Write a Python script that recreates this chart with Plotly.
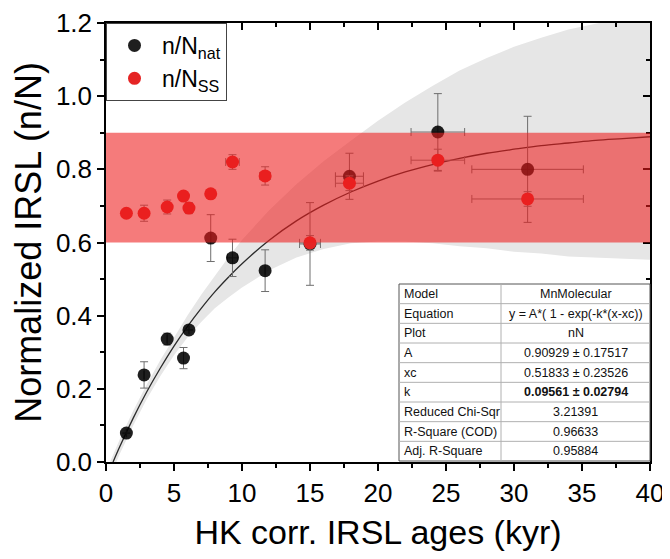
import plotly.graph_objects as go

# ---------------- data ----------------
age_nat = [1.5, 2.8, 4.5, 5.7, 6.1, 7.7, 9.3, 11.7, 15.0, 17.9, 24.4, 31.0]
nN_nat = [0.079, 0.238, 0.336, 0.284, 0.361, 0.612, 0.558, 0.523, 0.596, 0.781, 0.902, 0.800]
nN_nat_err = [0.0, 0.036, 0.016, 0.029, 0.0, 0.064, 0.051, 0.057, 0.113, 0.063, 0.105, 0.145]
age_nat_err = [0.0, 0.0, 0.0, 0.0, 0.0, 0.0, 0.37, 0.0, 0.77, 1.03, 1.97, 4.1]

age_ss = [1.5, 2.8, 4.5, 5.7, 6.1, 7.7, 9.3, 11.7, 15.0, 17.9, 24.4, 31.0]
nN_ss = [0.680, 0.680, 0.697, 0.727, 0.694, 0.733, 0.820, 0.782, 0.599, 0.762, 0.825, 0.719]
nN_ss_err = [0.0, 0.022, 0.019, 0.0, 0.015, 0.0, 0.020, 0.025, 0.02, 0.02, 0.03, 0.02]
age_ss_err = [0.0, 0.0, 0.0, 0.0, 0.0, 0.0, 0.5, 0.4, 0.77, 1.03, 1.97, 4.1]

# fitted curve and its confidence band
fit_x = [0.52, 1, 2, 3, 4, 5, 6, 7, 8, 9, 10, 12, 14, 16, 18, 20, 22, 24, 26, 28, 30, 32, 34, 36, 38, 40]
fit_y = [0.0, 0.041, 0.120, 0.192, 0.257, 0.317, 0.371, 0.420, 0.465, 0.505, 0.542, 0.606, 0.659,
         0.702, 0.738, 0.768, 0.793, 0.813, 0.830, 0.844, 0.855, 0.865, 0.872, 0.879, 0.884, 0.889]
band_x = [0, 1, 2, 3, 4, 5, 6, 7, 8, 9, 10, 12, 14, 16, 18, 20, 22, 24, 26, 28, 30, 32, 34, 36, 38, 40]
band_lo = [-0.066, 0.021, 0.100, 0.172, 0.235, 0.292, 0.341, 0.383, 0.420, 0.450, 0.477, 0.524, 0.559,
           0.582, 0.598, 0.603, 0.603, 0.598, 0.590, 0.584, 0.575, 0.570, 0.562, 0.559, 0.554, 0.553]
band_hi = [-0.026, 0.061, 0.140, 0.212, 0.279, 0.342, 0.401, 0.457, 0.510, 0.560, 0.607, 0.688, 0.759,
           0.822, 0.878, 0.933, 0.983, 1.028, 1.070, 1.104, 1.135, 1.160, 1.182, 1.199, 1.214, 1.225]

band_range = [0.6, 0.9]

x_ticks = [0, 5, 10, 15, 20, 25, 30, 35, 40]
y_ticks = [0.0, 0.2, 0.4, 0.6, 0.8, 1.0, 1.2]

table_labels = ["Model", "Equation", "Plot", "A", "xc", "k", "Reduced Chi-Sqr", "R-Square (COD)", "Adj. R-Square"]
table_values = ["MnMolecular", "y = A*( 1 - exp(-k*(x-xc))", "nN", "0.90929 ± 0.17517",
                "0.51833 ± 0.23526", "<b>0.09561 ± 0.02794</b>", "3.21391", "0.96633", "0.95884"]

# ---------------- figure ----------------
# the page body adds an 8px margin, so the figure is made 16px smaller and shifted
OFF = 8
W, H = 670 - 2 * OFF, 559 - 2 * OFF
# plot area in window pixels: x 106..650, y 23..462
ML, MT = 106 - OFF, 23 - OFF
MR = W - (650 - OFF)
MB = H - (462 - OFF)
PW, PH = W - ML - MR, H - MT - MB
FONT = "Liberation Sans, Arial, sans-serif"


def px(xp):
    # window pixel -> paper fraction
    return (xp - OFF - ML) / PW


def py(yp):
    return (H - MB - (yp - OFF)) / PH


fig = go.Figure()

fig.add_trace(go.Scatter(x=band_x, y=band_lo, mode="lines", line=dict(width=0, color="#e6e6e6"),
                         showlegend=False, hoverinfo="skip"))
fig.add_trace(go.Scatter(x=band_x, y=band_hi, mode="lines", line=dict(width=0, color="#e6e6e6"),
                         fill="tonexty", fillcolor="#e6e6e6", showlegend=False, hoverinfo="skip"))
fig.add_trace(go.Scatter(x=fit_x, y=fit_y, mode="lines", line=dict(color="#2b2b2b", width=1.3, shape="spline"),
                         showlegend=False, hoverinfo="skip"))

fig.add_trace(go.Scatter(
    x=age_nat, y=nN_nat, mode="markers", name="n/N<sub>nat</sub>",
    marker=dict(color="rgba(0,0,0,0.88)", size=13),
    error_y=dict(type="data", array=nN_nat_err, color="#6e6e6e", thickness=1, width=4),
    error_x=dict(type="data", array=age_nat_err, color="#6e6e6e", thickness=1, width=4),
))
fig.add_trace(go.Scatter(
    x=age_ss, y=nN_ss, mode="markers", name="n/N<sub>SS</sub>",
    marker=dict(color="#e52424", size=13),
    error_y=dict(type="data", array=nN_ss_err, color="#7a7a7a", thickness=1, width=4),
    error_x=dict(type="data", array=age_ss_err, color="#7a7a7a", thickness=1, width=4),
))
fig.add_trace(go.Scatter(x=[], y=[], xaxis="x2", yaxis="y2", showlegend=False, hoverinfo="skip"))

shapes = [dict(type="rect", xref="x", yref="y", x0=0, x1=40, y0=band_range[0], y1=band_range[1],
               fillcolor="rgba(238,28,28,0.58)", line=dict(width=0), layer="above")]

# table (window pixels)
t_left, t_right, t_mid, t_top, t_bot = 399, 650, 501, 284, 461
n_rows = len(table_labels)
row_h = (t_bot - t_top) / n_rows
shapes.append(dict(type="rect", xref="paper", yref="paper", x0=px(t_left), x1=px(t_right),
                   y0=py(t_bot), y1=py(t_top), fillcolor="white", line=dict(color="#555555", width=1),
                   layer="above"))
for i in range(1, n_rows):
    yy = py(t_top + i * row_h)
    shapes.append(dict(type="line", xref="paper", yref="paper", x0=px(t_left), x1=px(t_right),
                       y0=yy, y1=yy, line=dict(color="#b0b0b0", width=1), layer="above"))
shapes.append(dict(type="line", xref="paper", yref="paper", x0=px(t_mid), x1=px(t_mid),
                   y0=py(t_bot), y1=py(t_top), line=dict(color="#b0b0b0", width=1), layer="above"))

annotations = []
for i, (lab, val) in enumerate(zip(table_labels, table_values)):
    yc = py(t_top + (i + 0.5) * row_h)
    annotations.append(dict(xref="paper", yref="paper", x=px(t_left + 3), y=yc, text=lab,
                            showarrow=False, xanchor="left", yanchor="middle",
                            font=dict(family=FONT, size=12.5, color="#111111")))
    annotations.append(dict(xref="paper", yref="paper", x=px((t_mid + t_right) / 2), y=yc, text=val,
                            showarrow=False, xanchor="center", yanchor="middle",
                            font=dict(family=FONT, size=12.5, color="#111111")))

axis_common = dict(showline=True, linecolor="black", linewidth=1.5, ticklen=7, tickwidth=1.5,
                   tickcolor="black", showgrid=False, zeroline=False, automargin=False)

fig.update_layout(
    width=W, height=H,
    margin=dict(l=ML, r=MR, t=MT, b=MB, autoexpand=False),
    paper_bgcolor="white", plot_bgcolor="white",
    font=dict(family=FONT, color="black"),
    shapes=shapes, annotations=annotations,
    showlegend=True,
    legend=dict(x=0, y=1, xanchor="left", yanchor="top", bgcolor="white", traceorder="normal",
                bordercolor="#444444", borderwidth=1, font=dict(family=FONT, size=23),
                itemwidth=45, tracegroupgap=0),
    xaxis=dict(range=[0, 40], tickvals=x_ticks, ticks="outside", ticklabeloverflow="allow",
               minor=dict(dtick=2.5, ticks="outside", ticklen=4, tickwidth=1.5, tickcolor="black"),
               tickfont=dict(family=FONT, size=26),
               title=dict(text="HK corr. IRSL ages (kyr)", font=dict(family=FONT, size=34), standoff=20),
               **axis_common),
    yaxis=dict(range=[0, 1.2], tickvals=y_ticks, tickformat=".1f", ticks="outside", ticklabeloverflow="allow",
               minor=dict(dtick=0.1, ticks="outside", ticklen=4, tickwidth=1.5, tickcolor="black"),
               tickfont=dict(family=FONT, size=26),
               title=dict(text="Normalized IRSL (n/N)", font=dict(family=FONT, size=36), standoff=6),
               **axis_common),
    xaxis2=dict(range=[0, 40], overlaying="x", anchor="y2", side="top", tickvals=x_ticks, ticks="inside",
                showticklabels=False,
                minor=dict(dtick=2.5, ticks="inside", ticklen=4, tickwidth=1.5, tickcolor="black"),
                **axis_common),
    yaxis2=dict(range=[0, 1.2], overlaying="y", anchor="x2", side="right", tickvals=y_ticks, ticks="inside",
                showticklabels=False,
                minor=dict(dtick=0.1, ticks="inside", ticklen=4, tickwidth=1.5, tickcolor="black"),
                **axis_common),
)

fig.write_html("out.html")
